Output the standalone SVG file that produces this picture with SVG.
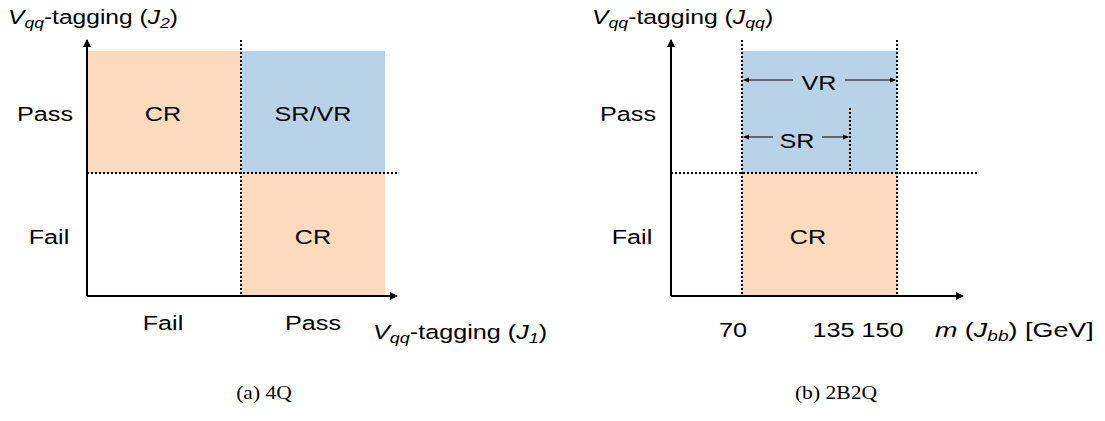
<svg xmlns="http://www.w3.org/2000/svg" width="1105" height="421" viewBox="0 0 1105 421">
<style>
.t{font-family:"Liberation Sans",Arial,sans-serif;font-size:21px;fill:#000}
.i{font-style:italic}
.s{font-size:15px;font-style:italic}
.m{text-anchor:middle}
.cap{font-family:"Liberation Serif","Times New Roman",serif;font-size:18px;fill:#000;text-anchor:middle}
.ax{stroke:#000;stroke-width:2;fill:none}
.dot{stroke:#000;stroke-width:2;stroke-dasharray:2 2;fill:none}
.thin{stroke:#000;stroke-width:1;fill:none}
.peach{fill:#FCDABE}
.blue{fill:#B8D3E8}
</style>
<defs>
<marker id="ah" markerWidth="8" markerHeight="8" refX="7" refY="4" orient="auto" markerUnits="userSpaceOnUse"><path d="M0,0 L8,4 L0,8 Z" fill="#000"/></marker>
<marker id="sh" markerWidth="6" markerHeight="6" refX="5" refY="3" orient="auto" markerUnits="userSpaceOnUse"><path d="M0,0.5 L6,3 L0,5.5 Z" fill="#000"/></marker>
</defs>
<g id="panel-a">
<g id="a-regions">
<rect class="peach" x="87" y="51" width="154" height="122"/>
<rect class="blue" x="241" y="51" width="144" height="122"/>
<rect class="peach" x="241" y="173" width="144" height="123"/>
</g>
<g id="a-connectors">
<line class="dot" x1="241" y1="40" x2="241" y2="296"/>
<line class="dot" x1="87" y1="173" x2="397" y2="173"/>
<line class="ax" x1="87" y1="296" x2="87" y2="40" marker-end="url(#ah)"/>
<line class="ax" x1="87" y1="296" x2="397" y2="296" marker-end="url(#ah)"/>
</g>
<text class="t" transform="translate(8,24) scale(1.17,1)"><tspan class="i">V</tspan><tspan class="s" dy="4">qq</tspan><tspan dy="-4">-tagging (</tspan><tspan class="i">J</tspan><tspan class="s" dy="4">2</tspan><tspan dy="-4">)</tspan></text>
<text class="t m" transform="translate(45,120.5) scale(1.2,1)">Pass</text>
<text class="t m" transform="translate(49,243.5) scale(1.2,1)">Fail</text>
<text class="t m" transform="translate(163,120.5) scale(1.2,1)">CR</text>
<text class="t m" transform="translate(313,120.5) scale(1.2,1)">SR/VR</text>
<text class="t m" transform="translate(313,243.5) scale(1.2,1)">CR</text>
<text class="t m" transform="translate(163,330) scale(1.2,1)">Fail</text>
<text class="t m" transform="translate(313,330) scale(1.2,1)">Pass</text>
<text class="t" transform="translate(373,339) scale(1.2,1)"><tspan class="i">V</tspan><tspan class="s" dy="4">qq</tspan><tspan dy="-4">-tagging (</tspan><tspan class="i">J</tspan><tspan class="s" dy="4">1</tspan><tspan dy="-4">)</tspan></text>
<text class="cap" transform="translate(264,399) scale(1.2,1)">(a) 4Q</text>
</g>
<g id="panel-b">
<g id="b-regions">
<rect class="blue" x="742" y="51" width="155" height="122"/>
<rect class="peach" x="742" y="173" width="155" height="123"/>
</g>
<g id="b-connectors">
<line class="dot" x1="742" y1="40" x2="742" y2="296"/>
<line class="dot" x1="897" y1="40" x2="897" y2="296"/>
<line class="dot" x1="850" y1="108" x2="850" y2="173"/>
<line class="dot" x1="671" y1="173" x2="978" y2="173"/>
<line class="ax" x1="671" y1="296" x2="671" y2="40" marker-end="url(#ah)"/>
<line class="ax" x1="671" y1="296" x2="963" y2="296" marker-end="url(#ah)"/>
<line class="thin" x1="793" y1="80" x2="744" y2="80" marker-end="url(#sh)"/>
<line class="thin" x1="845" y1="80" x2="895" y2="80" marker-end="url(#sh)"/>
<line class="thin" x1="773" y1="137" x2="744" y2="137" marker-end="url(#sh)"/>
<line class="thin" x1="822" y1="137" x2="848" y2="137" marker-end="url(#sh)"/>
</g>
<text class="t" transform="translate(592,24) scale(1.18,1)"><tspan class="i">V</tspan><tspan class="s" dy="4">qq</tspan><tspan dy="-4">-tagging (</tspan><tspan class="i">J</tspan><tspan class="s" dy="4">qq</tspan><tspan dy="-4">)</tspan></text>
<text class="t m" transform="translate(628,120.5) scale(1.2,1)">Pass</text>
<text class="t m" transform="translate(632,243.5) scale(1.2,1)">Fail</text>
<text class="t m" transform="translate(819,89.5) scale(1.2,1)">VR</text>
<text class="t m" transform="translate(797,147.5) scale(1.2,1)">SR</text>
<text class="t m" transform="translate(808,243.5) scale(1.2,1)">CR</text>
<text class="t m" transform="translate(733,337) scale(1.2,1)">70</text>
<text class="t m" transform="translate(858,337) scale(1.2,1)">135 150</text>
<text class="t" transform="translate(935,337) scale(1.28,1)"><tspan class="i">m</tspan><tspan> (</tspan><tspan class="i">J</tspan><tspan class="s" dy="4">bb</tspan><tspan dy="-4">) [GeV]</tspan></text>
<text class="cap" transform="translate(836,399) scale(1.2,1)">(b) 2B2Q</text>
</g>
</svg>
